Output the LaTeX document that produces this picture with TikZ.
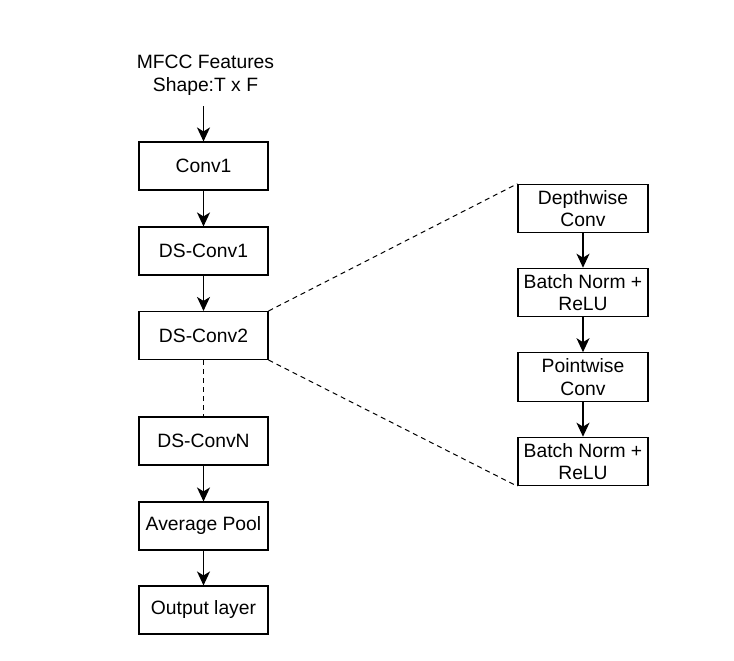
\documentclass[tikz,border=0pt]{standalone}
\usepackage{fontspec}
\setmainfont{Liberation Sans}
\usetikzlibrary{arrows.meta}
\begin{document}
\begin{tikzpicture}[x=1pt,y=-1pt,
  blk/.style={draw=black,line width=1.1pt,fill=white,inner sep=0pt,
    minimum width=129pt,minimum height=48pt,align=center,
    font=\fontsize{19.3}{22.7}\selectfont},
  flow/.style={draw=black,line width=1.2pt,-{Stealth[length=14pt,width=13pt,inset=4pt]}},
  dsh/.style={draw=black,line width=1pt,dash pattern=on 5pt off 4pt}]
\useasboundingbox (0,0) rectangle (734,661);
\node[font=\fontsize{19.3}{22.7}\selectfont,align=center,inner sep=0pt] (in) at (205.5,75) {MFCC Features\\Shape:T x F};
\node[blk] (c1) at (203.5,166) {Conv1};
\node[blk] (d1) at (203.5,251) {DS-Conv1};
\node[blk] (d2) at (203.5,335.5) {DS-Conv2};
\node[blk] (dn) at (203.5,441) {DS-ConvN};
\node[blk] (ap) at (203.5,526) {Average Pool};
\node[blk] (ol) at (203.5,610) {Output layer};
\node[blk,minimum width=130pt,minimum height=48.5pt] (dw) at (583,208.5) {Depthwise\\Conv};
\node[blk,minimum width=130pt,minimum height=48.5pt] (b1) at (583,292.5) {Batch Norm +\\ReLU};
\node[blk,minimum width=130pt,minimum height=48.5pt] (pw) at (583,377) {Pointwise\\Conv};
\node[blk,minimum width=130pt,minimum height=48.5pt] (b2) at (583,461.5) {Batch Norm +\\ReLU};
\coordinate (inb) at (203.5,106);
\draw[flow] (inb) -- (c1.north);
\draw[flow] (c1) -- (d1);
\draw[flow] (d1) -- (d2);
\draw[dsh] (d2) -- (dn);
\draw[flow] (dn) -- (ap);
\draw[flow] (ap) -- (ol);
\draw[flow] (dw) -- (b1);
\draw[flow] (b1) -- (pw);
\draw[flow] (pw) -- (b2);
\draw[dsh] (d2.north east) -- (dw.north west);
\draw[dsh] (d2.south east) -- (b2.south west);
\end{tikzpicture}
\end{document}
